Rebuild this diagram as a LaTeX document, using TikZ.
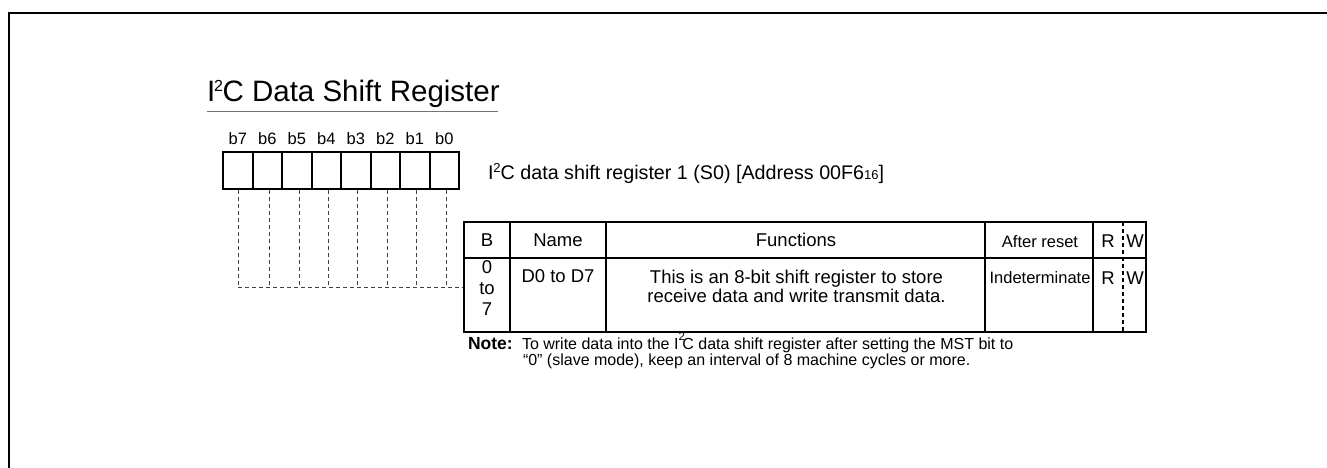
\documentclass[tikz,border=0pt]{standalone}
\usepackage{fontspec}
\setmainfont{Liberation Sans}
\begin{document}
\begin{tikzpicture}[x=1pt,y=-1pt,
  every node/.style={inner sep=0pt, outer sep=0pt},
  body/.style={font=\fontsize{18.5}{20}\selectfont},
  small/.style={font=\fontsize{16.5}{18}\selectfont},
  notef/.style={font=\fontsize{16}{17}\selectfont},
  bitlabel/.style={font=\fontsize{16.5}{18}\selectfont, anchor=base},
  cell/.style={draw, line width=2pt, minimum width=29.5pt, minimum height=37pt},
  guide/.style={black!75, line width=1pt, dash pattern=on 4pt off 3pt},
  tline/.style={line width=2pt},
  rwline/.style={line width=2pt, dash pattern=on 4pt off 3pt}]
\useasboundingbox (0,0) rectangle (1327,468);
% frame
\draw[line width=2pt] (9,468) -- (9,13) -- (1327,13);
% title
\node[anchor=base west, font=\fontsize{29.5}{32}\selectfont] (title) at (207,102)
  {I\kern-1pt\raisebox{0.36em}{\fontsize{16}{16}\selectfont 2}\kern-0.5pt C Data Shift Register};
\coordinate (ulA) at (207,112);
\coordinate (ulB) at (498,112);
\draw[black!55, line width=1pt] (ulA) -- (ulB);
% register cells
\foreach \i/\b/\gx in {0/7/238,1/6/269,2/5/299,3/4/328,4/3/357,5/2/387,6/1/416,7/0/446} {
  \node[cell] (c\i) at ({237.75+29.5*\i},170.5) {};
  \node[bitlabel] (bl\i) at ({237.75+29.5*\i},145) {b\b};
  \coordinate (gt\i) at (\gx,190);
  \coordinate (gb\i) at (\gx,287);
  \draw[guide] (gt\i) -- (gb\i);
}
\coordinate (tblL) at (464,287);
\draw[guide] (gb0) -- (tblL);
\node[font=\fontsize{19.7}{21}\selectfont, anchor=base west] (regname) at (488,179)
  {I\raisebox{0.33em}{\fontsize{13}{13}\selectfont 2}C data shift register 1 (S0) [Address 00F6{\fontsize{13}{13}\selectfont 16}]};
% table
\draw[tline] (464,222) rectangle (1146,332);
\draw[tline] (464,258) -- (1146,258);
\foreach \xx in {510,606,985,1093} \draw[tline] (\xx,222) -- (\xx,332);
\draw[rwline] (1123,222) -- (1123,332);
% header
\node[body, anchor=base] (hB) at (487,246) {B};
\node[body, anchor=base] (hName) at (558,246) {Name};
\node[body, anchor=base] (hFunc) at (796,246) {Functions};
\node[small, anchor=base] (hAR) at (1040,247) {After reset};
\node[body, anchor=base] (hR) at (1108,247) {R};
\node[body, anchor=base] (hW) at (1135,247) {W};
% data row
\node[body, anchor=base] (b0) at (487,273) {0};
\node[body, anchor=base] (b1) at (487,294) {to};
\node[body, anchor=base] (b2) at (487,315) {7};
\node[body, anchor=base] (dname) at (558,282) {D0 to D7};
\node[body, anchor=base] (f1) at (796.5,283) {This is an 8-bit shift register to store};
\node[body, anchor=base] (f2) at (796.5,302) {receive data and write transmit data.};
\node[small, anchor=base] (dAR) at (1040,283) {Indeterminate};
\node[body, anchor=base] (dR) at (1108,284) {R};
\node[body, anchor=base] (dW) at (1135,284) {W};
% note
\node[anchor=base west, font=\fontsize{17.5}{18}\selectfont\bfseries] (noteh) at (468,349) {Note:};
\node[notef, anchor=base west] (note1) at (522,349)
  {To write data into the I\raisebox{0.55em}{\fontsize{11.5}{12}\selectfont 2}\kern-2.5pt C data shift register after setting the MST bit to};
\node[notef, anchor=base west] (note2) at (523,365)
  {``0'' (slave mode), keep an interval of 8 machine cycles or more.};
\end{tikzpicture}
\end{document}
